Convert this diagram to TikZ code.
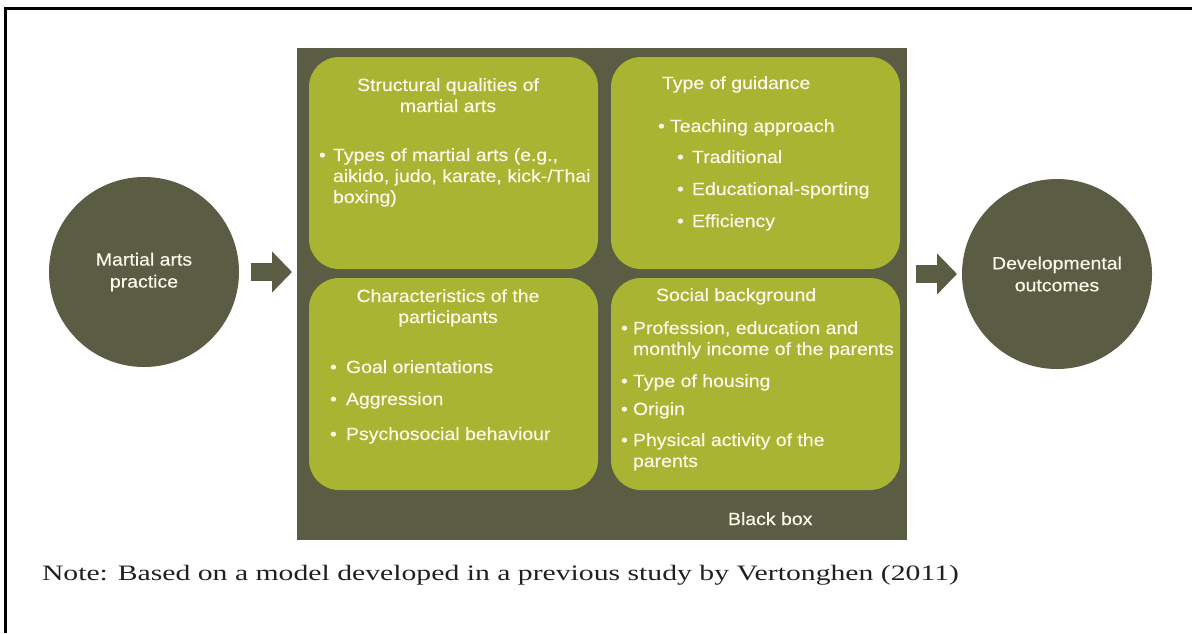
\documentclass[tikz,border=0pt]{standalone}
\usepackage{fontspec}
\usepackage{graphicx}
\usepackage[dvipsnames]{xcolor}
\usepackage{tikz}
\usetikzlibrary{positioning}
\usetikzlibrary{calc}
\usetikzlibrary{arrows.meta}

\newfontfamily\boxfont{Liberation Sans}[FakeStretch=1.1, FakeBold=0.4]
\newfontfamily\notefont{Liberation Serif}
\definecolor{darkOlive}{HTML}{5B5C44}
\definecolor{paneGreen}{HTML}{A8B432}
\definecolor{paneText}{HTML}{FAF9EA}
\definecolor{noteText}{HTML}{202020}

\begin{document}
\begin{tikzpicture}[
		x=0.5pt, y=-0.5pt,
		every node/.style = {
			inner sep=0pt,
			outer sep=0pt,
			text=paneText,
			font=\boxfont\fontsize{8.85}{10.5}\selectfont
		},
		circ/.style={circle, fill=darkOlive, minimum size=95pt, align=center, font=\boxfont\fontsize{8.85}{11}\selectfont},
		pane/.style={rectangle, fill=paneGreen, rounded corners=15pt, minimum width=144.5pt, minimum height=106pt, anchor=north west},
		title/.style={anchor=base, align=center},
		head/.style={anchor=base west},
		item/.style={anchor=base west, align=left},
		flow/.style={-{Triangle[width=20pt, length=10pt]}, line width=9pt, draw=darkOlive}
		]
		\useasboundingbox (0,0) rectangle (1192,633);
		\draw[line width=1.5pt] (5,633) -- (5,8) -- (1192,8);

		\node[fill=darkOlive, minimum width=305pt, minimum height=246pt, anchor=north west] (blackbox) at (297,48) {};
		\node[pane] (struct) at (309,57) {};
		\node[pane] (guide) at (611,57) {};
		\node[pane] (partic) at (309,278) {};
		\node[pane] (social) at (611,278) {};

		% structural qualities (base = last line)
		\node[title] (struct-t) at (448,112) {Structural qualities of\\martial arts};
		\node[item] (struct-1) at (319,203) {\makebox[7pt][l]{\textbullet}Types of martial arts (e.g.,\\\hspace*{7pt}aikido, judo, karate, kick-/Thai\\\hspace*{7pt}boxing)};

		% type of guidance
		\node[head] (guide-t) at (662,89) {Type of guidance};
		\node[item] (guide-1) at (658,132) {\makebox[6pt][l]{\textbullet}Teaching approach};
		\node[item] (guide-2) at (677,163) {\makebox[7.5pt][l]{\textbullet}Traditional};
		\node[item] (guide-3) at (677,195) {\makebox[7.5pt][l]{\textbullet}Educational-sporting};
		\node[item] (guide-4) at (677,227) {\makebox[7.5pt][l]{\textbullet}Efficiency};

		% participants
		\node[title] (partic-t) at (448,323) {Characteristics of the\\participants};
		\node[item] (partic-1) at (330,373) {\makebox[8pt][l]{\textbullet}Goal orientations};
		\node[item] (partic-2) at (330,405) {\makebox[8pt][l]{\textbullet}Aggression};
		\node[item] (partic-3) at (330,440) {\makebox[8pt][l]{\textbullet}Psychosocial behaviour};

		% social background
		\node[head] (social-t) at (656,301) {Social background};
		\node[item] (social-1) at (621,355) {\makebox[6pt][l]{\textbullet}Profession, education and\\\hspace*{6pt}monthly income of the parents};
		\node[item] (social-2) at (621,387) {\makebox[6pt][l]{\textbullet}Type of housing};
		\node[item] (social-3) at (621,415) {\makebox[6pt][l]{\textbullet}Origin};
		\node[item] (social-4) at (621,467) {\makebox[6pt][l]{\textbullet}Physical activity of the\\\hspace*{6pt}parents};

		\node[head] (bblabel) at (728,525) {Black box};

		\node[circ] (practice) at (144,272) {Martial arts\\practice};
		\node[circ] (outcomes) at (1057,274) {Developmental\\outcomes};

		\draw[flow, shorten <=6pt, shorten >=2.5pt] (practice.east) -- (practice.east -| blackbox.west);
		\draw[flow, shorten <=4.5pt, shorten >=2.5pt] (blackbox.east |- outcomes.west) -- (outcomes.west);

		\node[anchor=base west, text=noteText, font=\notefont\fontsize{11}{13}\selectfont] (note) at (42,580) {\scalebox{1.35}[1]{Note: Based on a model developed in a previous study by Vertonghen (2011)}};
	\end{tikzpicture}
\end{document}
